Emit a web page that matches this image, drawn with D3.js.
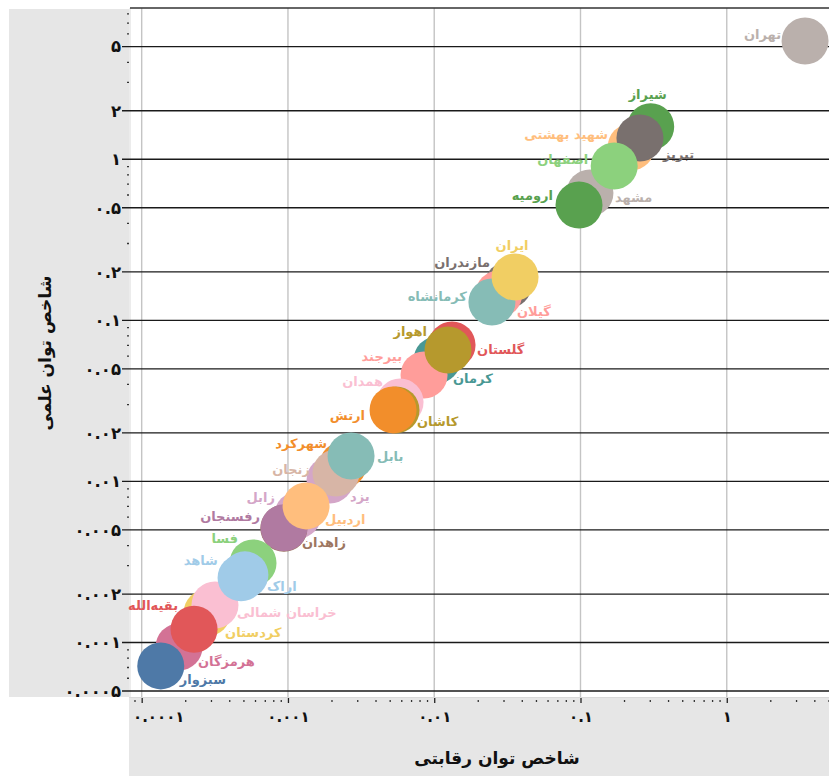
<!DOCTYPE html>
<html><head><meta charset="utf-8">
<script src="https://cdn.jsdelivr.net/npm/d3@7"></script>
<style>
html,body{margin:0;padding:0;background:#fff;}
svg{display:block;}
text{font-family:Tahoma,"DejaVu Sans",sans-serif;}
</style></head>
<body>
<script>
// ---- data (draw order) ----
const universities = ["تهران","شیراز","شهید بهشتی","تبریز","مشهد","اصفهان","ارومیه","مازندران","گیلان","کرمانشاه","ایران","گلستان","کرمان","بیرجند","اهواز","همدان","کاشان","ارتش","شهرکرد","یزد","زنجان","بابل","زابل","زاهدان","رفسنجان","اردبیل","فسا","شاهد","کردستان","خراسان شمالی","اراک","هرمزگان","بقیه‌الله","سبزوار"];
const competitiveIndex = [3.43,0.302,0.222,0.255,0.116,0.170,0.0977,0.0320,0.0277,0.0248,0.0357,0.01324,0.01045,0.00852,0.01242,0.00584,0.00548,0.00523,0.00238,0.00194,0.00213,0.00270,0.00117,0.000938,0.000940,0.00133,0.000577,0.000508,0.000280,0.000317,0.000478,0.000180,0.000228,0.000135];
const scientificIndex = [5.42,1.593,1.192,1.356,0.618,0.909,0.520,0.166,0.146,0.130,0.186,0.0704,0.0568,0.0458,0.0655,0.0311,0.0278,0.0278,0.01265,0.01021,0.01129,0.01440,0.00619,0.00512,0.00515,0.00705,0.00312,0.00263,0.00153,0.00171,0.00252,0.000939,0.00121,0.000716];
const xTicks = [0.0001,0.001,0.01,0.1,1];
const yTicks = [5,2,1,0.5,0.2,0.1,0.05,0.02,0.01,0.005,0.002,0.001,0.0005];
const xTitle = "شاخص توان رقابتی";
const yTitle = "شاخص توان علمی";

// ---- styles / layout ----
const colorOf = {"تهران":"#BAB0AC","شیراز":"#59A14F","شهید بهشتی":"#FFBE7D","تبریز":"#79706E","مشهد":"#BAB0AC","اصفهان":"#8CD17D","ارومیه":"#59A14F","مازندران":"#79706E","گیلان":"#FF9D9A","کرمانشاه":"#86BCB6","ایران":"#F1CE63","گلستان":"#E15759","کرمان":"#499894","بیرجند":"#FF9D9A","اهواز":"#B6992D","همدان":"#FABFD2","کاشان":"#B6992D","ارتش":"#F28E2B","شهرکرد":"#F28E2B","یزد":"#D4A6C8","زنجان":"#D7B5A6","بابل":"#86BCB6","زابل":"#D4A6C8","زاهدان":"#9D7660","رفسنجان":"#B07AA1","اردبیل":"#FFBE7D","فسا":"#8CD17D","شاهد":"#A0CBE8","کردستان":"#F1CE63","خراسان شمالی":"#FABFD2","اراک":"#A0CBE8","هرمزگان":"#D37295","بقیه‌الله":"#E15759","سبزوار":"#4E79A7"};
const labelPlace = {"تهران":["end",-24,-7],"شیراز":["middle",-3,-32],"شهید بهشتی":["end",-23,-12],"تبریز":["start",23,17],"مشهد":["start",25,5],"اصفهان":["end",-26,-6],"ارومیه":["end",-26,-10],"مازندران":["end",-18,-22],"گیلان":["start",18,18],"کرمانشاه":["end",-25,-5],"ایران":["middle",-3,-31],"گلستان":["start",25,5],"کرمان":["start",16,19],"بیرجند":["end",-22,-18],"اهواز":["end",-21,-18],"همدان":["end",-17,-21],"کاشان":["start",21,12],"ارتش":["end",-28,6],"شهرکرد":["end",-16,-21],"یزد":["start",20,17],"زنجان":["end",-26,-3],"بابل":["start",26,1],"زابل":["end",-23,-17],"زاهدان":["start",18,14],"رفسنجان":["end",-24,-11],"اردبیل":["start",19,14],"فسا":["end",-15,-24],"شاهد":["end",-27,-14],"کردستان":["start",18,20],"خراسان شمالی":["start",22,8],"اراک":["start",26,9],"هرمزگان":["start",19,15],"بقیه‌الله":["end",-16,-24],"سبزوار":["start",19,14]};

const W = 829, H = 776;
const plot = {left:130, right:829, top:8, bottom:697};
const fa = s => String(s).replace(/\d/g, d => "۰۱۲۳۴۵۶۷۸۹"[d]);

const svg = d3.select("body").append("svg").attr("width", W).attr("height", H);

const x = d3.scaleLog().domain([0.0000832, 5.0]).range([plot.left, plot.right]);
const y = d3.scaleLog().domain([0.000459, 8.69]).range([plot.bottom, plot.top]);

// panels
svg.append("rect").attr("x",9).attr("y",9).attr("width",plot.left-1-9).attr("height",plot.bottom-9).attr("fill","#e6e6e6");
svg.append("rect").attr("x",plot.left-1).attr("y",plot.bottom).attr("width",W-plot.left+1).attr("height",H-plot.bottom).attr("fill","#e6e6e6");

// plot borders
svg.append("line").attr("x1",plot.left).attr("x2",plot.left).attr("y1",plot.top).attr("y2",plot.bottom).attr("stroke","#d9d9d9").attr("stroke-width",1);
svg.append("line").attr("x1",plot.left-1).attr("x2",W).attr("y1",plot.bottom+0.5).attr("y2",plot.bottom+0.5).attr("stroke","#d9d9d9").attr("stroke-width",1);

// vertical gridlines
svg.append("g").selectAll("line").data(xTicks).join("line")
  .attr("x1",d=>x(d)).attr("x2",d=>x(d)).attr("y1",plot.top).attr("y2",plot.bottom)
  .attr("stroke","#c4c4c4").attr("stroke-width",1.4);

// horizontal gridlines (extending as ticks)
svg.append("g").selectAll("line").data(yTicks).join("line")
  .attr("x1",122).attr("x2",W).attr("y1",d=>y(d)).attr("y2",d=>y(d))
  .attr("stroke","#1a1a1a").attr("stroke-width",1.3);

// top border
svg.append("line").attr("x1",plot.left).attr("x2",W).attr("y1",plot.top).attr("y2",plot.top).attr("stroke","#333").attr("stroke-width",1.3);

// y axis labels and minor ticks
const yAxis = d3.axisLeft(y).tickValues(yTicks).tickSize(0).tickPadding(0).tickFormat(fa);
const gy = svg.append("g").attr("transform",`translate(121,0)`).call(yAxis);
gy.select(".domain").remove();
gy.selectAll("text").attr("font-size",16.5).attr("font-weight","bold").attr("fill","#111").attr("dy","0.32em");
const yMinor = y.ticks().filter(v => !yTicks.some(t => Math.abs(t - v)/t < 1e-6));
svg.append("g").selectAll("line").data(yMinor).join("line")
  .attr("x1",127).attr("x2",129).attr("y1",d=>y(d)).attr("y2",d=>y(d))
  .attr("stroke","#333").attr("stroke-width",1.3);

// x axis
const xAxis = d3.axisBottom(x).tickValues(xTicks).tickSize(5).tickPadding(8).tickFormat(fa);
const gx = svg.append("g").attr("transform",`translate(0,${plot.bottom+1})`).call(xAxis);
gx.select(".domain").remove();
gx.selectAll(".tick line").attr("stroke","#222").attr("stroke-width",1.3);
gx.selectAll("text").attr("font-size",15).attr("font-weight","bold").attr("fill","#111");
gx.selectAll("text").each(function(){
  const bb = this.getBBox();
  const t = d3.select(this.parentNode).attr("transform");
  const tx = +t.match(/translate\(([-\d.]+)/)[1];
  if (tx + bb.x < 133) d3.select(this).attr("x", 133 - (tx + bb.x));
});
const xMinor = x.ticks().filter(v => !xTicks.some(t => Math.abs(t - v)/t < 1e-6));
svg.append("g").selectAll("line").data(xMinor).join("line")
  .attr("x1",d=>x(d)).attr("x2",d=>x(d)).attr("y1",plot.bottom+3).attr("y2",plot.bottom+5)
  .attr("stroke","#333").attr("stroke-width",1.3);

// axis titles
svg.append("text").attr("x",497).attr("y",758).attr("text-anchor","middle").attr("dominant-baseline","central")
  .attr("font-size",17).attr("font-weight","bold").attr("fill","#111").text(xTitle);
svg.append("text").attr("transform","translate(45,353) rotate(-90)").attr("text-anchor","middle").attr("dominant-baseline","central")
  .attr("font-size",17).attr("font-weight","bold").attr("fill","#111").text(yTitle);

// bubbles
const data = universities.map((n,i)=>({name:n, cx:competitiveIndex[i], cy:scientificIndex[i]}));
const R = 23.5;
svg.append("g").selectAll("circle").data(data).join("circle")
  .attr("cx",d=>x(d.cx)).attr("cy",d=>y(d.cy)).attr("r",R)
  .attr("fill",d=>colorOf[d.name]);

// labels
svg.append("g").selectAll("text").data(data).join("text")
  .attr("x",d=>x(d.cx)+labelPlace[d.name][1])
  .attr("y",d=>y(d.cy)+labelPlace[d.name][2])
  .attr("text-anchor",d=>labelPlace[d.name][0])
  .attr("dominant-baseline","central")
  .attr("font-size",13).attr("font-weight","bold")
  .attr("fill",d=>colorOf[d.name])
  .text(d=>d.name);
</script>
</body></html>
